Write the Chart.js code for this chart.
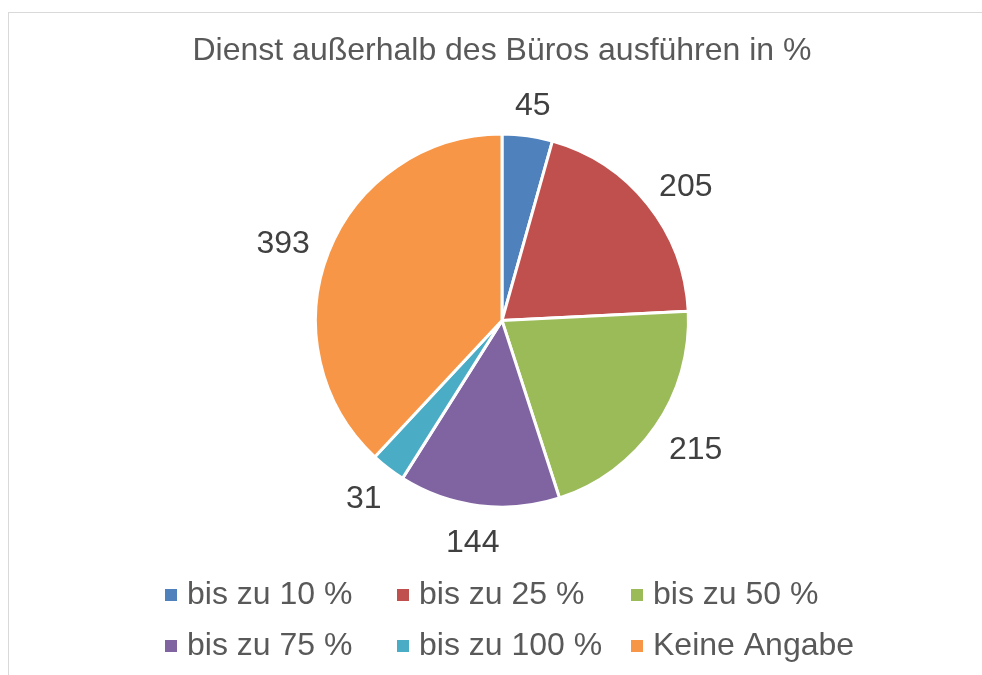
<!DOCTYPE html>
<html>
<head>
<meta charset="utf-8">
<script src="https://cdn.jsdelivr.net/npm/chart.js@4/dist/chart.umd.min.js"></script>
<style>
  html, body { margin: 0; padding: 0; background: #fff; overflow: hidden; }
  #frame { position: absolute; left: 8px; top: 12px; width: 1000px; height: 700px; border: 1px solid #d9d9d9; }
  #pie { position: absolute; left: 0; top: 0; }
</style>
</head>
<body>
<div id="frame"></div>
<canvas id="pie" width="982" height="675"></canvas>
<script>
const titleText = 'Dienst außerhalb des Büros ausführen in %';
const categories = ['bis zu 10 %', 'bis zu 25 %', 'bis zu 50 %', 'bis zu 75 %', 'bis zu 100 %', 'Keine Angabe'];
const counts = [45, 205, 215, 144, 31, 393];
const colors = ['#4f81bd', '#c0504d', '#9bbb59', '#8064a2', '#4bacc6', '#f79646'];

const FONT = '"Liberation Sans", Arial, sans-serif';

// value labels just outside each slice
const outsideLabels = {
    id: 'outsideLabels',
    afterDatasetsDraw(chart) {
        const ctx = chart.ctx;
        const meta = chart.getDatasetMeta(0);
        ctx.save();
        ctx.font = '32px ' + FONT;
        ctx.fillStyle = '#404040';
        ctx.textAlign = 'center';
        ctx.textBaseline = 'middle';
        meta.data.forEach(function (arc, i) {
            const p = arc.getProps(['x', 'y', 'startAngle', 'endAngle', 'outerRadius'], true);
            const mid = (p.startAngle + p.endAngle) / 2;
            const dx = Math.cos(mid), dy = Math.sin(mid);
            const txt = String(chart.data.datasets[0].data[i]);
            const w = ctx.measureText(txt).width, h = 24;
            const r = p.outerRadius + 22;
            ctx.fillText(txt, p.x + r * dx + w / 2 * dx, p.y + r * dy + h / 2 * dy + 4);
        });
        ctx.restore();
    }
};

// excel-like legend, 3 columns x 2 rows
const gridLegend = {
    id: 'gridLegend',
    afterDraw(chart) {
        const ctx = chart.ctx;
        const colX = [165, 397, 631];
        const rowY = [595, 646];
        ctx.save();
        ctx.font = '32px ' + FONT;
        ctx.textBaseline = 'middle';
        ctx.textAlign = 'left';
        chart.data.labels.forEach(function (lab, i) {
            const x = colX[i % 3], y = rowY[Math.floor(i / 3)];
            ctx.fillStyle = chart.data.datasets[0].backgroundColor[i];
            ctx.fillRect(x, y - 6, 12, 12);
            ctx.fillStyle = '#595959';
            ctx.fillText(lab, x + 22, y);
        });
        ctx.restore();
    }
};

new Chart(document.getElementById('pie'), {
    type: 'pie',
    data: {
        labels: categories,
        datasets: [{
            data: counts,
            backgroundColor: colors,
            borderColor: '#ffffff',
            borderWidth: 3
        }]
    },
    options: {
        responsive: false,
        animation: false,
        radius: 186.5,
        layout: { padding: { top: 0, bottom: 104.2, left: 100, right: 78 } },
        plugins: {
            legend: { display: false },
            tooltip: { enabled: false },
            title: {
                display: true,
                text: titleText,
                color: '#595959',
                font: { family: FONT, size: 32, weight: 'normal', lineHeight: 1.2 },
                padding: { top: 32, bottom: 0 }
            }
        }
    },
    plugins: [outsideLabels, gridLegend]
});
</script>
</body>
</html>
